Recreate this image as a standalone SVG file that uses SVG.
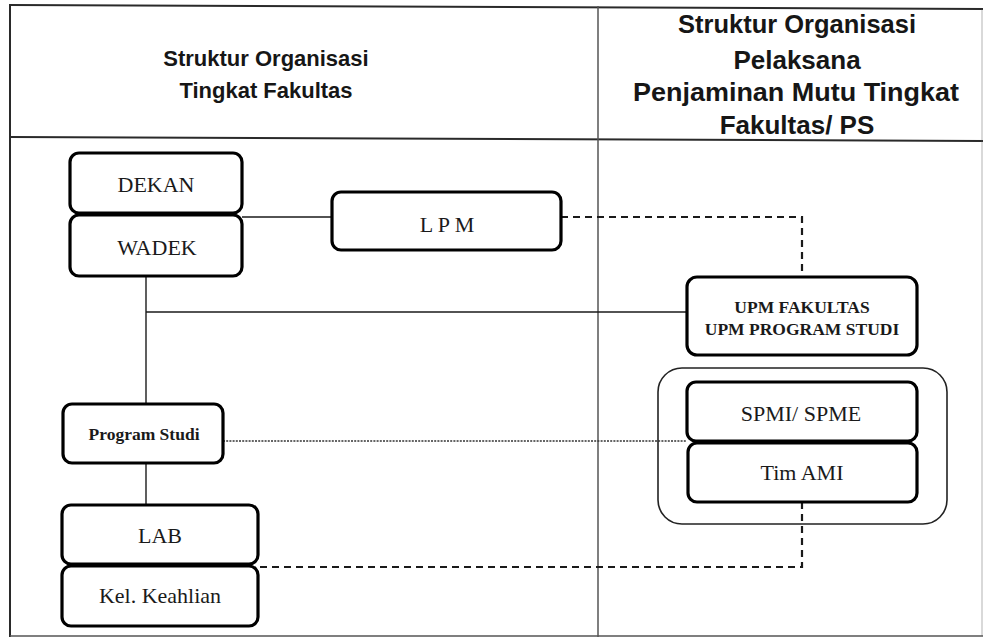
<svg xmlns="http://www.w3.org/2000/svg" width="983" height="638" viewBox="0 0 983 638">
  <style>
    .frame { stroke: #2a2a2a; stroke-width: 2; fill: none; }
    .frame-thin { stroke: #555; stroke-width: 1.5; fill: none; }
    .head { font-family: "Liberation Sans", Arial, sans-serif; font-weight: 700; fill: #161616; text-anchor: middle; }
    .box { fill: #fff; stroke: #000; stroke-width: 3.2; }
    .group { fill: none; stroke: #222; stroke-width: 1.6; }
    .label { font-family: "Liberation Serif", "Times New Roman", serif; fill: #1a1a1a; text-anchor: middle; font-size: 22px; }
    .label-b { font-family: "Liberation Serif", "Times New Roman", serif; fill: #1a1a1a; text-anchor: middle; font-weight: 700; font-size: 17.5px; }
    .solid { stroke: #1a1a1a; stroke-width: 1.4; fill: none; }
    .dash { stroke: #1a1a1a; stroke-width: 2.2; fill: none; stroke-dasharray: 7 5; }
    .dot { stroke: #333; stroke-width: 1.6; fill: none; stroke-dasharray: 2 1.2; }
  </style>

  <rect x="0" y="0" width="983" height="638" fill="#fff"/>

  <!-- table frame -->
  <g id="table">
    <line class="frame" x1="10" y1="5" x2="983" y2="9"/>
    <line class="frame" x1="10" y1="137" x2="983" y2="141"/>
    <line class="frame" x1="10" y1="4" x2="10" y2="637"/>
    <line class="frame-thin" x1="598" y1="6" x2="598" y2="637"/>
    <line class="frame-thin" x1="10" y1="636" x2="983" y2="636"/>
    <line class="frame-thin" x1="982" y1="9" x2="982" y2="636" stroke-opacity="0.3"/>
  </g>

  <!-- column headings -->
  <g id="heading-left">
    <text class="head" font-size="22" x="266" y="66">Struktur Organisasi</text>
    <text class="head" font-size="22" x="266" y="98">Tingkat Fakultas</text>
  </g>
  <g id="heading-right">
    <text class="head" font-size="26" x="797" y="33" textLength="238" lengthAdjust="spacingAndGlyphs">Struktur Organisasi</text>
    <text class="head" font-size="26" x="797" y="69">Pelaksana</text>
    <text class="head" font-size="26" x="796" y="101" textLength="326" lengthAdjust="spacingAndGlyphs">Penjaminan Mutu Tingkat</text>
    <text class="head" font-size="26" x="797" y="134">Fakultas/ PS</text>
  </g>

  <!-- connectors -->
  <g id="connectors">
    <line class="solid" x1="242" y1="217" x2="332" y2="217"/>
    <line class="solid" x1="146" y1="276" x2="146" y2="404"/>
    <line class="solid" x1="146" y1="312" x2="687" y2="312"/>
    <line class="solid" x1="146" y1="463" x2="146" y2="505"/>
    <polyline class="dash" points="561,217 802,217 802,277"/>
    <line class="dot" x1="223" y1="441" x2="687" y2="441"/>
    <polyline class="dash" points="802,502 802,567 258,567"/>
  </g>

  <g id="dekan">
    <rect class="box" x="70" y="153" width="172" height="60" rx="9"/>
    <text class="label" x="156" y="192">DEKAN</text>
  </g>
  <g id="wadek">
    <rect class="box" x="70" y="215" width="172" height="61" rx="9"/>
    <text class="label" x="157" y="255">WADEK</text>
  </g>
  <g id="lpm">
    <rect class="box" x="332" y="192" width="229" height="58" rx="9"/>
    <text class="label" x="447" y="232">L P M</text>
  </g>
  <g id="upm">
    <rect class="box" x="687" y="277" width="230" height="78" rx="10"/>
    <text class="label-b" x="802" y="313">UPM FAKULTAS</text>
    <text class="label-b" x="802" y="335">UPM PROGRAM STUDI</text>
  </g>
  <g id="program-studi">
    <rect class="box" x="63" y="404" width="160" height="59" rx="9"/>
    <text class="label-b" x="144" y="440">Program Studi</text>
  </g>
  <g id="lab">
    <rect class="box" x="62" y="505" width="196" height="59" rx="9"/>
    <text class="label" x="160" y="543">LAB</text>
  </g>
  <g id="kel-keahlian">
    <rect class="box" x="62" y="566" width="196" height="60" rx="9"/>
    <text class="label" x="160" y="603">Kel. Keahlian</text>
  </g>
  <g id="penjaminan-mutu">
    <rect class="group" x="658" y="368" width="289" height="156" rx="24"/>
  </g>
  <g id="spmi-spme">
    <rect class="box" x="687" y="382" width="230" height="59" rx="9"/>
    <text class="label" x="801" y="421" font-size="23.5">SPMI/ SPME</text>
  </g>
  <g id="tim-ami">
    <rect class="box" x="688" y="443" width="229" height="59" rx="9"/>
    <text class="label" x="802" y="480">Tim AMI</text>
  </g>
</svg>
